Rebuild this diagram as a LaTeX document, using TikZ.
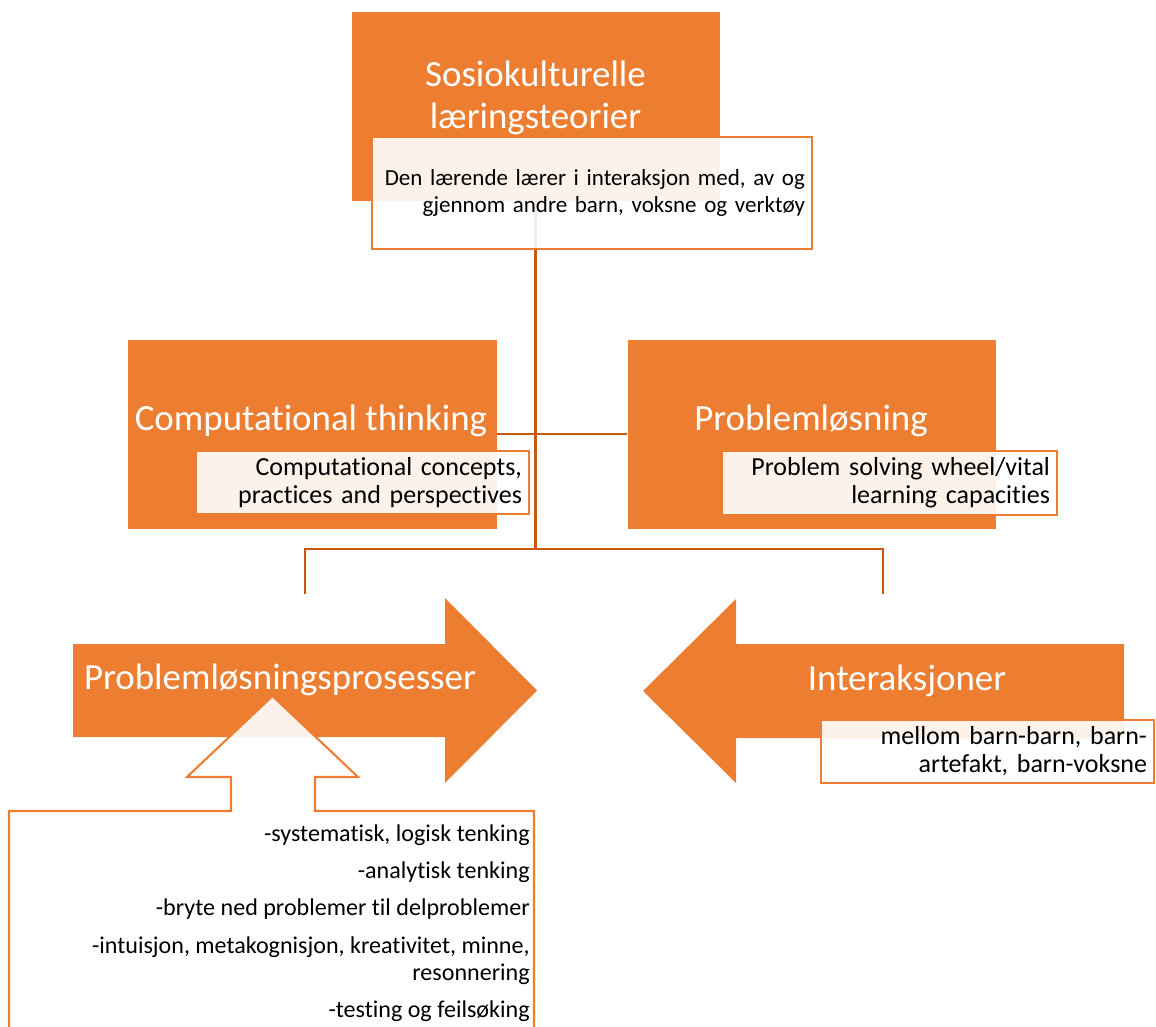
\documentclass[tikz,border=0pt]{standalone}
\usepackage{fontspec}
\setmainfont{Carlito}[Ligatures=NoCommon]

\definecolor{accent}{HTML}{ED7D31}
\definecolor{accentdark}{HTML}{C55A11}

\tikzset{
	headbox/.style={fill=accent, draw=white, line width=0.4pt, minimum width=7.38cm, minimum height=3.8cm, inner sep=0pt},
	notebox/.style={fill=white, fill opacity=0.9, text opacity=1, draw=accent, line width=1.2pt, inner xsep=0.14cm, inner ysep=0pt, align=right, font=\fontsize{14.8}{15.9}\selectfont},
	headtext/.style={text=white, inner sep=0pt, align=center, font=\fontsize{21}{24}\selectfont},
	listtext/.style={inner sep=0pt, align=right, font=\fontsize{13.7}{15.3}\selectfont},
	link/.style={draw=accentdark, line width=1.3pt},
}

\begin{document}
\begin{tikzpicture}[x=0.02cm, y=-0.02cm]
	
	\useasboundingbox (0,0) rectangle (1156,1027);
	
	\node[headbox] (soc) at (535.5,106) {};
	\node[headbox, minimum width=7.4cm] (ct) at (312,434) {};
	\node[headbox] (pl) at (811.5,434) {};
	
	\fill[accent] (73,644) -- (445,644) -- (445,598) -- (537,690.5) -- (445,783) -- (445,737) -- (73,737) -- cycle;
	\fill[accent] (1124,644) -- (736,644) -- (736,599) -- (643,691) -- (736,783) -- (736,738) -- (1124,738) -- cycle;
	
	\coordinate (j) at (535.5,549);
	\coordinate (jl) at (305,549);
	\coordinate (jr) at (883,549);
	\coordinate (plpin) at (305,594);
	\coordinate (intin) at (883,594);
	
	\draw[link] (soc.south) -- (j);
	\draw[link] (ct.east) -- (pl.west);
	\draw[link] (plpin) -- (jl) -- (jr) -- (intin);
	
	\node[notebox, text width=8.52cm, minimum height=2.24cm, font=\fontsize{13.1}{15.3}\selectfont] (socnote) at (592,193) {Den lærende lærer i interaksjon med, av og\\gjennom andre barn, voksne og verktøy};
	\node[notebox, text width=6.38cm, minimum height=1.26cm] (ctnote) at (362.5,482.5) {Computational concepts,\\practices and perspectives};
	\node[notebox, text width=6.42cm, minimum height=1.28cm] (plnote) at (889.5,483) {Problem solving wheel/vital\\learning capacities};
	\node[notebox, text width=6.38cm, minimum height=1.26cm] (intnote) at (987.5,751.5) {mellom barn-barn, barn-\\artefakt, barn-voksne};
	
	\filldraw[fill=white, fill opacity=0.9, draw=accent, line width=1.2pt] (9,1030) -- (9,811) -- (231,811) -- (231,777) -- (187,777) -- (272.5,696) -- (358,777) -- (315,777) -- (315,811) -- (534,811) -- (534,1030);
	
	\node[headtext] (soctitle) at (535.5,98) {Sosiokulturelle\\læringsteorier};
	\node[headtext, anchor=base] (cttitle) at (311,430) {Computational thinking};
	\node[headtext, anchor=base] (pltitle) at (811,430) {Problemløsning};
	\node[headtext, anchor=base] (plptitle) at (280,689) {Problemløsningsprosesser};
	\node[headtext, anchor=base] (inttitle) at (907,690) {Interaksjoner};
	
	\node[listtext, anchor=north east] (skills) at (530,824) {-systematisk, logisk tenking\\[6pt]
		-analytisk tenking\\[6pt]
		-bryte ned problemer til delproblemer\\[6pt]
		-intuisjon, metakognisjon, kreativitet, minne,\\
		resonnering\\[6pt]
		-testing og feilsøking};
	
\end{tikzpicture}
\end{document}
